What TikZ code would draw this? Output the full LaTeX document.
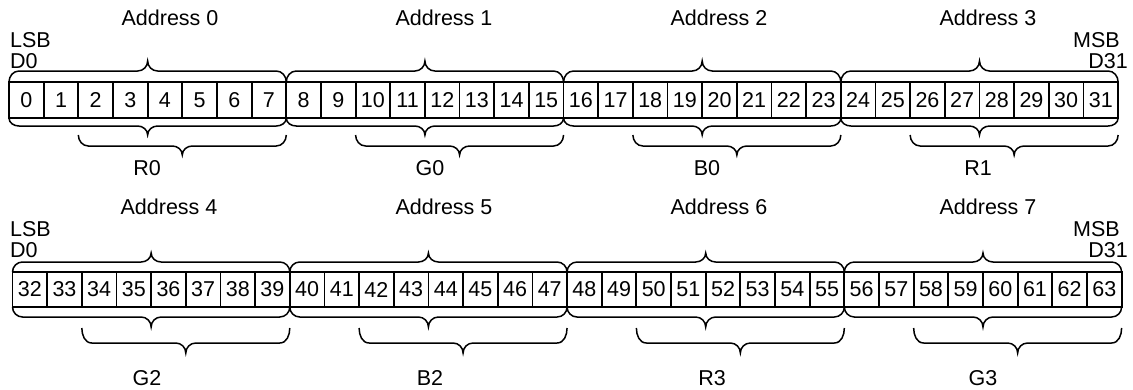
\documentclass[tikz,border=0pt]{standalone}
\usepackage{fontspec}
\setmainfont{Liberation Sans}
\usetikzlibrary{calc}
\tikzset{
  cell/.style={draw,line width=1.8pt,minimum width=34.66pt,minimum height=36pt,inner sep=0pt,outer sep=0pt},
  cellb/.style={cell,minimum height=35pt},
  bracestyle/.style={line width=1.5pt},
  lbl/.style={inner sep=0pt}
}
% #1 start, #2 end, #3 outgoing angle (90 up / -90 down), #4 opposite angle, #5 curl height, #6 tip height
\newcommand\hbrace[6]{%
  \draw[bracestyle] let \p1=(#1), \p2=(#2), \n1={(\x1+\x2)/2}, \n2={#5*sin(#3)}, \n3={#6*sin(#3)} in
    (\p1) to[out=#3,in=180] ({\x1+10pt},{\y1+\n2})
    -- ({\n1*1pt-10pt},{\y1+\n2}) to[out=0,in=#4] ({\n1*1pt},{\y1+\n3})
    to[out=#4,in=180] ({\n1*1pt+10pt},{\y1+\n2})
    -- ({\x2-10pt},{\y1+\n2}) to[out=0,in=#3] (\p2);}
\begin{document}
\begin{tikzpicture}[x=1pt,y=-1pt,every node/.style={font=\fontsize{21.5}{25}\selectfont}]
\useasboundingbox (0,0) rectangle (1133,389);
% row 1
\foreach \i in {0,...,31} {\node[cell] (c\i) at ({9+(\i+0.5)*34.66},100) {\i};}
% row 2
\foreach \i in {32,...,63} {\node[cellb] (c\i) at ({12.5+(\i-31.5)*34.66},289.5) {\i};}
% labels row 1
\node[lbl] (a0) at (170,18) {Address 0};
\node[lbl] (a1) at (444,18) {Address 1};
\node[lbl] (a2) at (719,18) {Address 2};
\node[lbl] (a3) at (988,18) {Address 3};
\node[lbl,anchor=west] (lsb1) at (10,40) {LSB};
\node[lbl,anchor=west] (d01) at (10,61) {D0};
\node[lbl,anchor=east] (msb1) at (1120,40) {MSB};
\node[lbl,anchor=east] (d311) at (1128,61) {D31};
\node[lbl] (r0) at (147,168) {R0};
\node[lbl] (g0) at (430,168) {G0};
\node[lbl] (b0) at (707,168) {B0};
\node[lbl] (r1) at (978,168) {R1};
% labels row 2
\node[lbl] (a4) at (169,207) {Address 4};
\node[lbl] (a5) at (444,207) {Address 5};
\node[lbl] (a6) at (719,207) {Address 6};
\node[lbl] (a7) at (988,207) {Address 7};
\node[lbl,anchor=west] (lsb2) at (10,229) {LSB};
\node[lbl,anchor=west] (d02) at (10,250) {D0};
\node[lbl,anchor=east] (msb2) at (1120,229) {MSB};
\node[lbl,anchor=east] (d312) at (1128,250) {D31};
\node[lbl] (g2) at (147,378) {G2};
\node[lbl] (b2) at (430,378) {B2};
\node[lbl] (r3) at (712,378) {R3};
\node[lbl] (g3) at (983,378) {G3};
% braces row 1
\foreach \s/\e in {0/7,8/15,16/23,24/31} {
  \hbrace{c\s.north west}{c\e.north east}{90}{-90}{11}{21}
  \hbrace{c\s.south west}{c\e.south east}{-90}{90}{8}{17}
}
\foreach \s/\e/\nm in {2/7/r0,10/15/g0,18/23/b0,26/31/r1} {
  \coordinate (\nm s) at ([yshift=-17pt]c\s.south west);
  \coordinate (\nm e) at ([yshift=-17pt]c\e.south east);
  \hbrace{\nm s}{\nm e}{-90}{90}{11}{20}
}
% braces row 2
\foreach \s/\e in {32/39,40/47,48/55,56/63} {
  \hbrace{c\s.north west}{c\e.north east}{90}{-90}{10}{19}
  \hbrace{c\s.south west}{c\e.south east}{-90}{90}{10}{20}
}
\foreach \s/\e/\nm in {34/39/g2,42/47/b2,50/55/r3,58/63/g3} {
  \coordinate (\nm s) at ([yshift=-21pt]c\s.south west);
  \coordinate (\nm e) at ([yshift=-21pt]c\e.south east);
  \hbrace{\nm s}{\nm e}{-90}{90}{15}{25}
}
\end{tikzpicture}
\end{document}
